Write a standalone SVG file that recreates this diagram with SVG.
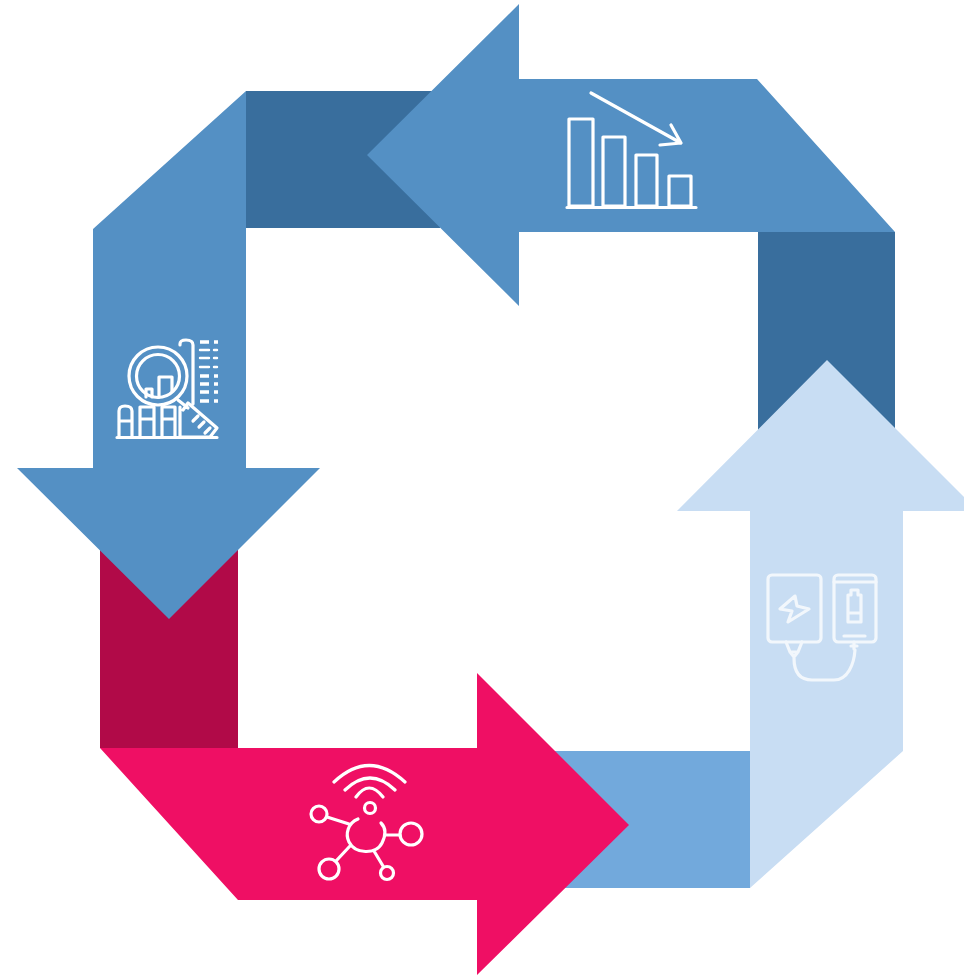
<svg xmlns="http://www.w3.org/2000/svg" width="964" height="975" viewBox="0 0 964 975">
<style>
.i{fill:none;stroke:#fff;stroke-width:3.200;stroke-linecap:round;stroke-linejoin:round}
.p{stroke:#f2f7fc}
.t{stroke-width:2.400}
.h{stroke-width:3.600;stroke-linecap:butt}
.b{fill:#5490c4}.d{fill:#396e9d}
</style>
<rect width="964" height="975" fill="#fff"/>
<g id="connectors">
<path id="band-top-left" class="d" d="M246 91H440V228H246Z"/>
<path id="band-right" class="d" d="M758 232H895V440H758Z"/>
<path id="band-left" fill="#b10a48" d="M100 540H238V748H100Z"/>
<path id="band-bottom" fill="#72a9dc" d="M550 751H750V888H550Z"/>
</g>
<g id="node-top">
<path class="b" d="M519 4V79H757L895 232H519V306L367 155Z"/>
<g class="i"><path d="M569 119H593V206H569ZM603 137H625V206H603ZM636 155H657V206H636ZM669 176H691V206H669ZM567 207.500H696"/><path d="M591 93L681 143M671 125L681 143L660 145"/></g>
</g>
<g id="node-left">
<path class="b" d="M246 91V468H320L169 619L17 468H93V229Z"/>
<g class="i"><circle cx="158" cy="376" r="29"/><circle cx="158" cy="376" r="21.500"/>
<path d="M146 397V389H152V397M159 397V377H172V391M180 345V344Q180 340 186 340Q193 340 193 345V404M119 437V411Q119 406 125 406Q132 406 132 411V437M119 421H132M140 437V407H154V437M140 419H154M162 437V407H175V437M162 419H175M180 437V407M183 410L188 403L217 428L210 437H180M178 400L188 408M193 421L198 416M199 427L204 422M205 433L210 428M117 437.500H217"/>
<path class="t" d="M200 350H209M214 350H217M200 358H209M214 358H217M200 367H209M214 367H217"/>
<path class="h" d="M200 342H209M214 342H218M200 376H209M214 376H218M200 384H209M214 384H218M200 392H209M214 392H218M200 401H209M214 401H218"/></g>
</g>
<g id="node-bottom">
<path fill="#ef0f64" d="M100 748H477V673L629 825L477 975V900H238Z"/>
<g class="i"><path d="M334 782Q369 749 405 782M345 790Q370 766 395 790M356 797Q369 779 383 797"/><circle cx="370" cy="808" r="5.500"/><circle cx="319" cy="814" r="8"/><circle cx="411" cy="834" r="11"/><circle cx="329" cy="869" r="10"/><circle cx="387" cy="873" r="6.500"/><path d="M327 817L349 824M358 819C348 823 345 834 349 842C355 854 376 855 382 843C386 835 386 828 381 823M385 835H400M350 846L336 861M374 851L383 866"/></g>
</g>
<g id="node-right">
<path fill="#c8ddf3" d="M827 360L964 497V511H903V751L750 888V511H677Z"/>
<g class="i p"><rect x="768" y="575" width="53" height="67" rx="4"/><rect x="834" y="575" width="42" height="67" rx="4"/><path d="M834 582H876M844 636H865M795 596L780 609L792 611L788 622L809 609L797 606ZM851 590H858V595H861V622H848V595H851ZM848 613H861M786 642L790 652L794 657L798 652L802 642M790 652H798M854 642V649M851 646H857M794 658C794 672 799 680 812 680H834C848 680 854 664 855 650"/></g>
</g>
</svg>
